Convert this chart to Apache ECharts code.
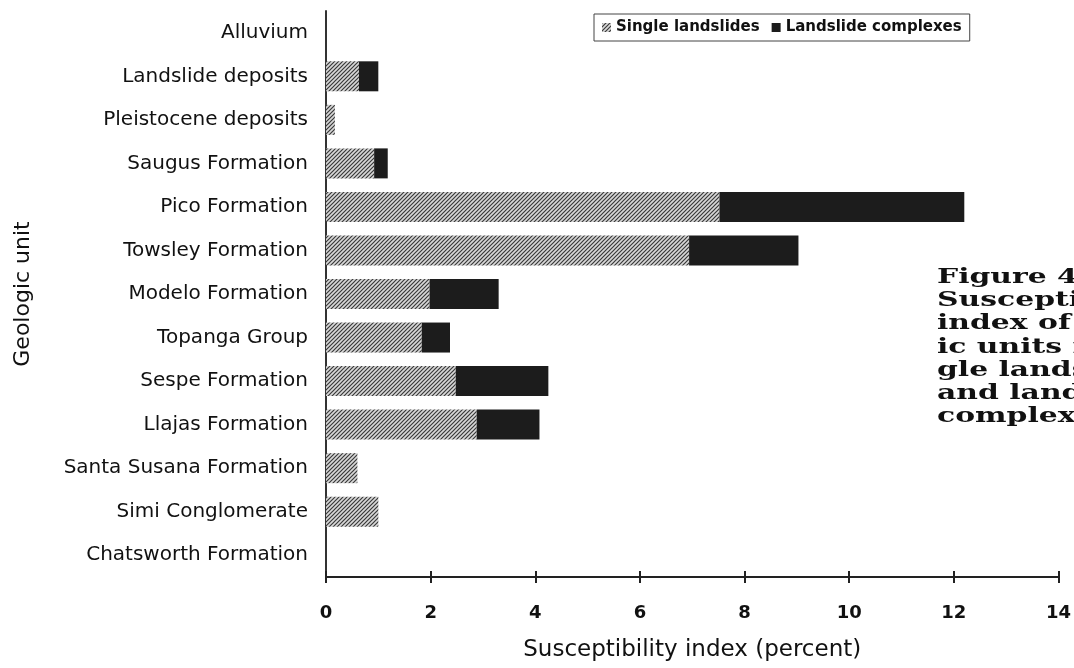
<!DOCTYPE html>
<html>
<head>
<meta charset="utf-8">
<script src="https://cdn.jsdelivr.net/npm/echarts@6/dist/echarts.min.js"></script>
<style>html,body{margin:0;padding:0;background:#fff}#c{width:1074px;height:668px}</style>
</head>
<body>
<div id="c"></div>
<script>
const categories = ['Alluvium','Landslide deposits','Pleistocene deposits','Saugus Formation','Pico Formation','Towsley Formation','Modelo Formation','Topanga Group','Sespe Formation','Llajas Formation','Santa Susana Formation','Simi Conglomerate','Chatsworth Formation'];
const singleLandslides = [0, 0.63, 0.17, 0.92, 7.52, 6.94, 1.98, 1.83, 2.48, 2.88, 0.60, 1.00, 0];
const landslideComplexes = [0, 0.37, 0, 0.26, 4.68, 2.09, 1.32, 0.54, 1.77, 1.20, 0, 0, 0];
const xTicks = [0, 2, 4, 6, 8, 10, 12, 14];
const captionLines = ['Figure 4.', 'Susceptibility', 'index of geolog-', 'ic units for sin-', 'gle landslides', 'and landslide', 'complexes.'];

function hatch() {
  const c = document.createElement('canvas');
  c.width = 4; c.height = 4;
  const g = c.getContext('2d');
  g.fillStyle = '#d8d8d8';
  g.fillRect(0, 0, 4, 4);
  g.strokeStyle = '#3a3a3a';
  g.lineWidth = 1.2;
  g.beginPath();
  g.moveTo(-1, 5); g.lineTo(5, -1);
  g.moveTo(-1, 1); g.lineTo(1, -1);
  g.moveTo(3, 5); g.lineTo(5, 3);
  g.stroke();
  return c;
}
const pattern = { image: hatch(), repeat: 'repeat' };

const chart = echarts.init(document.getElementById('c'));
const sans = '"DejaVu Sans", Verdana, sans-serif';
chart.setOption({
  animation: false,
  backgroundColor: '#fff',
  grid: { left: 326, right: 14, top: 11, bottom: 91 },
  legend: {
    left: 594, top: 14,
    padding: [6, 8, 6, 8],
    borderColor: '#444', borderWidth: 1,
    itemWidth: 9, itemHeight: 9, itemGap: 12,
    icon: 'rect',
    textStyle: { fontFamily: sans, fontSize: 15, fontWeight: 'bold', color: '#111' },
    data: ['Single landslides', 'Landslide complexes']
  },
  xAxis: [{
    type: 'value', min: 0, max: 14, interval: 2,
    axisLine: { show: true, lineStyle: { color: '#222', width: 2 } },
    axisTick: { show: true, length: 6, lineStyle: { color: '#222', width: 2 } },
    splitLine: { show: false },
    axisLabel: { margin: 27, fontFamily: sans, fontSize: 18, fontWeight: 'bold', color: '#111',
      formatter: v => xTicks.includes(v) ? String(v) : '' },
    name: 'Susceptibility index (percent)',
    nameLocation: 'middle', nameGap: 62,
    nameTextStyle: { fontFamily: sans, fontSize: 23, color: '#111' }
  }, {
    type: 'value', min: 0, max: 14, interval: 2, position: 'bottom',
    axisLine: { show: false },
    axisTick: { show: true, inside: true, length: 6, lineStyle: { color: '#222', width: 2 } },
    axisLabel: { show: false }, splitLine: { show: false }
  }],
  yAxis: {
    type: 'category', data: categories, inverse: true,
    axisLine: { show: true, lineStyle: { color: '#333', width: 2 } },
    axisTick: { show: false },
    axisLabel: { margin: 18, fontFamily: sans, fontSize: 20, color: '#111' },
    name: 'Geologic unit', nameLocation: 'middle', nameGap: 292,
    nameRotate: 90,
    nameTextStyle: { fontFamily: sans, fontSize: 22, color: '#111' }
  },
  series: [{
    name: 'Single landslides', type: 'bar', stack: 's', xAxisIndex: 0,
    data: singleLandslides, barWidth: 30,
    itemStyle: { color: pattern }
  }, {
    name: 'Landslide complexes', type: 'bar', stack: 's', xAxisIndex: 0,
    data: landslideComplexes, barWidth: 30,
    itemStyle: { color: '#1c1c1c' }
  }],
  graphic: captionLines.map((t, i) => ({
    type: 'text', x: 937, y: 267 + i * 23.2, scaleX: 1.42,
    style: { text: t, font: 'bold 21px "DejaVu Serif", serif', fill: '#111' }
  }))
});
</script>
</body>
</html>
